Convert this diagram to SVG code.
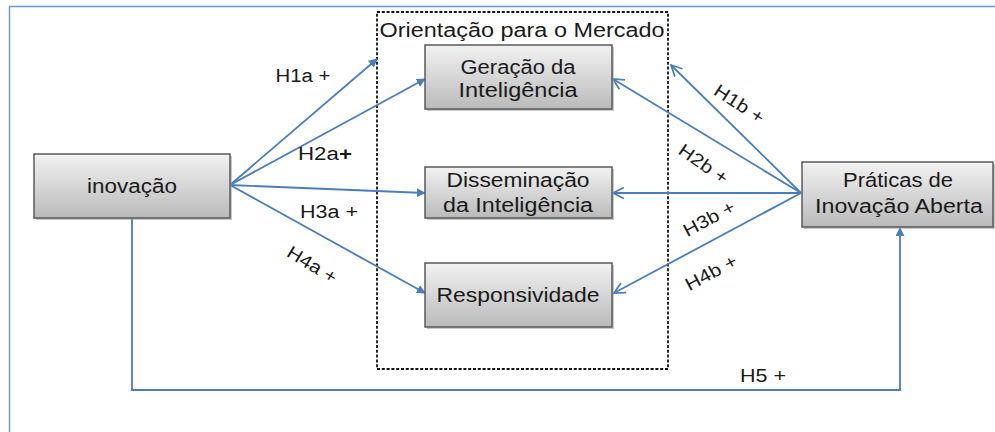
<svg xmlns="http://www.w3.org/2000/svg" width="995" height="432" viewBox="0 0 995 432">
<defs>
<linearGradient id="g" x1="0" y1="0" x2="0" y2="1">
<stop offset="0" stop-color="#f2f2f2"/>
<stop offset="1" stop-color="#bababa"/>
</linearGradient>
<marker id="tri" viewBox="0 0 10 10" refX="9" refY="5" markerWidth="9" markerHeight="9" markerUnits="userSpaceOnUse" orient="auto">
<path d="M0,0 L10,5 L0,10 z" fill="#4a7ebb"/>
</marker>
<marker id="vee" viewBox="0 0 12 12" refX="11" refY="6" markerWidth="13" markerHeight="13" markerUnits="userSpaceOnUse" orient="auto">
<path d="M1,1 L11,6 L1,11" fill="none" stroke="#4a7ebb" stroke-width="1.6"/>
</marker>
</defs>
<style>
.frame{fill:none;stroke:#6f97cf;stroke-width:1.5}
.box{fill:url(#g);stroke:#5a5a5a;stroke-width:1.5}
.sh{fill:#9a9a9a;opacity:.55}
.t{font-family:"Liberation Sans",Arial,sans-serif;font-size:20px;fill:#1a1a1a;text-anchor:middle}
.lb{font-family:"Liberation Sans",Arial,sans-serif;font-size:18px;fill:#1a1a1a;text-anchor:middle}
.c{fill:none;stroke:#4a7ebb;stroke-width:1.8}
.a{marker-end:url(#tri)}
.b{marker-end:url(#vee)}
.dash{fill:none;stroke:#111;stroke-width:1.8;stroke-dasharray:3,1.8}
</style>
<rect width="995" height="432" fill="#fff"/>
<path class="frame" d="M9.5,440 V6.5 H1000"/>
<rect class="dash" x="377" y="12" width="291" height="357"/>
<text class="t" x="522" y="37" textLength="285" lengthAdjust="spacingAndGlyphs">Orientação para o Mercado</text>

<g id="connectors">
<line class="c a" x1="230" y1="185" x2="377" y2="59"/>
<line class="c a" x1="230" y1="185" x2="425" y2="79"/>
<line class="c a" x1="230" y1="185" x2="425" y2="193"/>
<line class="c a" x1="230" y1="185" x2="425" y2="293"/>
<line class="c b" x1="801" y1="193" x2="671" y2="65"/>
<line class="c b" x1="801" y1="193" x2="613" y2="79"/>
<line class="c b" x1="801" y1="193" x2="613" y2="193"/>
<line class="c b" x1="801" y1="193" x2="614" y2="293"/>
<path class="c a" d="M132,218 V390 H900 V228"/>
<text class="lb" x="303" y="82" textLength="55" lengthAdjust="spacingAndGlyphs">H1a +</text>
<text class="lb" x="325" y="160" textLength="54" lengthAdjust="spacingAndGlyphs">H2a<tspan font-weight="bold">+</tspan></text>
<text class="lb" x="329" y="218" textLength="58" lengthAdjust="spacingAndGlyphs">H3a +</text>
<text class="lb" transform="translate(309,270) rotate(31)" textLength="55" lengthAdjust="spacingAndGlyphs">H4a +</text>
<text class="lb" transform="translate(736,109) rotate(33)" textLength="56" lengthAdjust="spacingAndGlyphs">H1b +</text>
<text class="lb" transform="translate(700,169) rotate(35)" textLength="56" lengthAdjust="spacingAndGlyphs">H2b +</text>
<text class="lb" transform="translate(712,224) rotate(-28)" textLength="56" lengthAdjust="spacingAndGlyphs">H3b +</text>
<text class="lb" transform="translate(714,278) rotate(-28)" textLength="56" lengthAdjust="spacingAndGlyphs">H4b +</text>
<text class="lb" x="763" y="382" textLength="46" lengthAdjust="spacingAndGlyphs">H5 +</text>
</g>

<g id="inovacao">
<rect class="sh" x="36" y="156" width="196" height="64"/>
<rect class="box" x="34" y="154" width="196" height="64"/>
<text class="t" x="132" y="193" textLength="90" lengthAdjust="spacingAndGlyphs">inovação</text>
</g>
<g id="geracao">
<rect class="sh" x="427" y="47" width="187" height="64"/>
<rect class="box" x="425" y="45" width="187" height="64"/>
<text class="t" x="518" y="74" textLength="115" lengthAdjust="spacingAndGlyphs">Geração da</text>
<text class="t" x="518" y="97" textLength="119" lengthAdjust="spacingAndGlyphs">Inteligência</text>
</g>
<g id="disseminacao">
<rect class="sh" x="427" y="169" width="187" height="51"/>
<rect class="box" x="425" y="167" width="187" height="51"/>
<text class="t" x="518" y="187" textLength="143" lengthAdjust="spacingAndGlyphs">Disseminação</text>
<text class="t" x="518" y="212" textLength="150" lengthAdjust="spacingAndGlyphs">da Inteligência</text>
</g>
<g id="responsividade">
<rect class="sh" x="427" y="265" width="187" height="64"/>
<rect class="box" x="425" y="263" width="187" height="64"/>
<text class="t" x="518" y="302" textLength="163" lengthAdjust="spacingAndGlyphs">Responsividade</text>
</g>
<g id="praticas">
<rect class="sh" x="804" y="164" width="191" height="65"/>
<rect class="box" x="802" y="162" width="191" height="65"/>
<text class="t" x="898" y="187" textLength="110" lengthAdjust="spacingAndGlyphs">Práticas de</text>
<text class="t" x="899" y="213" textLength="168" lengthAdjust="spacingAndGlyphs">Inovação Aberta</text>
</g>
</svg>
